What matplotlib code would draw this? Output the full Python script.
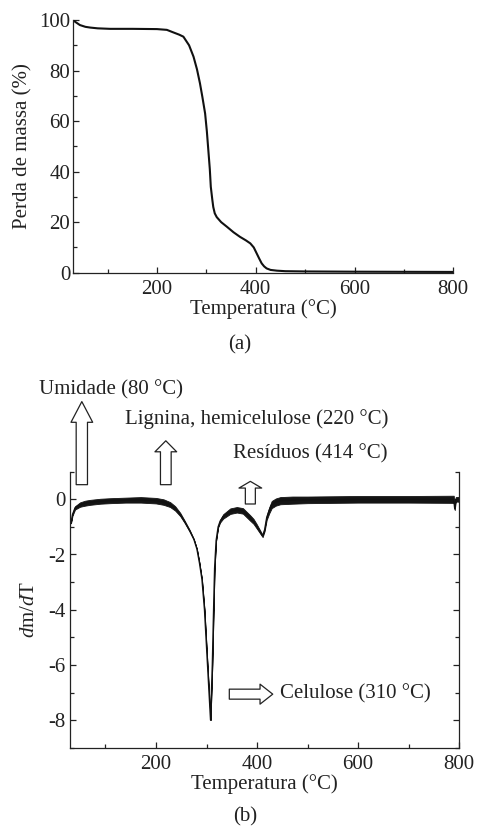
import numpy as np
import matplotlib
matplotlib.use("Agg")
import matplotlib.pyplot as plt
from matplotlib.patches import FancyArrowPatch, ArrowStyle
from matplotlib.ticker import MultipleLocator

plt.rcParams['font.family'] = ['Liberation Serif', 'DejaVu Serif']
plt.rcParams['mathtext.fontset'] = 'custom'
plt.rcParams['mathtext.rm'] = 'Liberation Serif'
plt.rcParams['mathtext.it'] = 'Liberation Serif:italic'
plt.rcParams['axes.unicode_minus'] = False

# ---------------- data ----------------
# (a) TG curve
tg_temp = [30, 35, 44, 55, 65, 80, 105, 150, 200, 220, 233, 245, 253.5, 265, 274, 281, 287,
           292, 297.5, 301, 304, 307, 309, 312, 314, 317, 321, 330, 341.5, 355, 368, 380,
           389, 396, 402, 407, 412, 417, 422, 430, 443, 460, 500, 600, 700, 800]
tg_mass = [100, 99.2, 98.0, 97.3, 97.0, 96.7, 96.5, 96.5, 96.4, 96.1, 95.1, 94.2, 93.4, 90,
           85.5, 80.5, 75, 69.5, 63, 56, 48.5, 41, 34, 29, 26, 23.5, 22, 20, 18.2, 16, 14.2,
           12.8, 11.6, 10, 7.6, 5.6, 3.7, 2.5, 1.7, 1.1, 0.8, 0.6, 0.5, 0.4, 0.35, 0.3]

# (b) DTG curve
dtg_temp = [32, 35, 40, 50, 60, 70, 90, 110, 140, 170,
            200, 215, 228, 238, 248, 257, 267, 275, 281, 286,
            291, 296, 302, 308, 311.5, 314, 316, 319, 323, 327,
            333, 347, 360, 372, 386, 393, 399, 405, 411, 415,
            419, 424, 429, 437, 446, 470, 500, 600, 700, 789,
            791, 793, 800]
dtg_val = [-0.85, -0.55, -0.31, -0.19, -0.14, -0.11, -0.07, -0.05, -0.03, -0.02,
           -0.05, -0.1, -0.19, -0.33, -0.55, -0.82, -1.15, -1.45, -1.8, -2.3,
           -2.9, -4.0, -6.0, -8.0, -6.0, -4.0, -2.5, -1.5, -1.0, -0.79,
           -0.62, -0.43, -0.38, -0.42, -0.67, -0.8, -0.97, -1.15, -1.33, -1.1,
           -0.67, -0.4, -0.19, -0.1, -0.05, -0.03, -0.02, 0.0, 0.0, 0.0,
           -0.35, 0.0, 0.0]
# signal noise half-amplitude
dtg_noise = [0.02, 0.04, 0.06, 0.08, 0.09, 0.09, 0.09, 0.09, 0.09, 0.1,
             0.1, 0.1, 0.09, 0.08, 0.06, 0.04, 0.03, 0.01, 0.0, 0.0,
             0.0, 0.0, 0.0, 0.0, 0.0, 0.0, 0.0, 0.0, 0.02, 0.05,
             0.08, 0.1, 0.1, 0.1, 0.1, 0.09, 0.08, 0.06, 0.04, 0.05,
             0.08, 0.11, 0.13, 0.13, 0.13, 0.13, 0.12, 0.12, 0.12, 0.13,
             0.04, 0.08, 0.09]

# annotations: (text, x, y) and arrows (x0, y0, x1, y1, head_len, head_w, tail_w in px)
ann_texts = [("Umidade (80 °C)", -31.3, 3.96),
             ("Lignina, hemicelulose (220 °C)", 138.8, 2.91),
             ("Resíduos (414 °C)", 352.4, 1.65),
             ("Celulose (310 °C)", 445.4, -7.04)]
ann_arrows = [(53.4, 0.53, 53.4, 3.54, 20.7, 21.7, 11.3),
              (219.5, 0.53, 219.5, 2.12, 11.0, 21.7, 10.7),
              (386.7, -0.17, 386.7, 0.65, 6.7, 22.7, 10.0),
              (345.1, -7.06, 431.0, -7.06, 12.7, 20.0, 10.0)]

W, H = 478, 827
fig = plt.figure(figsize=(W / 100, H / 100), dpi=100)
tcol = '#222222'
fs = 15

def style(ax):
    ax.tick_params(which='both', direction='in', colors=tcol, labelsize=fs, width=0.9)
    ax.tick_params(which='major', length=4)
    ax.tick_params(which='minor', length=3)
    for s in ax.spines.values():
        s.set_linewidth(0.9)
        s.set_color(tcol)

# ---------- (a) ----------
ax1 = fig.add_axes([73 / W, 1 - 272.7 / H, (453.3 - 73) / W, (272.7 - 20) / H])
ax1.plot(tg_temp, tg_mass, color='#111111', lw=1.5)
ax1.set_xlim(30, 800)
ax1.set_ylim(0, 100)
ax1.spines['top'].set_visible(False)
ax1.spines['right'].set_visible(False)
ax1.xaxis.set_major_locator(MultipleLocator(200))
ax1.xaxis.set_minor_locator(MultipleLocator(100))
ax1.yaxis.set_major_locator(MultipleLocator(20))
ax1.yaxis.set_minor_locator(MultipleLocator(10))
style(ax1)
ax1.tick_params(axis='x', pad=5)
ax1.tick_params(axis='y', pad=2)
ax1.set_xlabel("Temperatura (°C)", fontsize=fs, color=tcol, labelpad=0)
ax1.set_ylabel("Perda de massa (%)", fontsize=fs, color=tcol, labelpad=5)
fig.text(240 / W, 1 - 345 / H, "(a)", ha='center', va='center', fontsize=fs, color=tcol)

# ---------- (b) ----------
ax2 = fig.add_axes([70 / W, 1 - 747.7 / H, (459.3 - 70) / W, (747.7 - 471.7) / H])
t = np.array(dtg_temp)
v = np.array(dtg_val)
n = np.array(dtg_noise)
ax2.fill_between(t, v - n, v + n, color='#151515', lw=0.6, edgecolor='#151515')
ax2.plot(t, v, color='#111111', lw=1.0)
ax2.set_xlim(30, 800)
ax2.set_ylim(-9, 1)
ax2.spines['top'].set_visible(False)
ax2.xaxis.set_major_locator(MultipleLocator(200))
ax2.xaxis.set_minor_locator(MultipleLocator(100))
ax2.yaxis.set_major_locator(MultipleLocator(2))
ax2.yaxis.set_minor_locator(MultipleLocator(1))
style(ax2)
ax2.tick_params(axis='y', which='both', right=True)
ax2.tick_params(axis='x', pad=5)
ax2.tick_params(axis='y', pad=3.5)
ax2.set_xlabel("Temperatura (°C)", fontsize=fs, color=tcol, labelpad=0)
ax2.set_ylabel(r"$\mathit{d}\mathrm{m/}\mathit{d}\mathrm{T}$", fontsize=fs, color=tcol, labelpad=6)

for txt, x, y in ann_texts:
    ax2.text(x, y, txt, ha='left', va='center', fontsize=fs, color=tcol, clip_on=False)

pt = 0.72
for x0, y0, x1, y1, hl, hw, tw in ann_arrows:
    st = ArrowStyle.Simple(head_length=hl * pt, head_width=hw * pt, tail_width=tw * pt)
    p = FancyArrowPatch((x0, y0), (x1, y1), arrowstyle=st, mutation_scale=1,
                        shrinkA=0, shrinkB=0, fc='white', ec=tcol, lw=0.9,
                        transform=ax2.transData, clip_on=False)
    ax2.add_patch(p)

fig.text(245 / W, 1 - 817 / H, "(b)", ha='center', va='center', fontsize=fs, color=tcol)

fig.savefig("out.png", dpi=100)
